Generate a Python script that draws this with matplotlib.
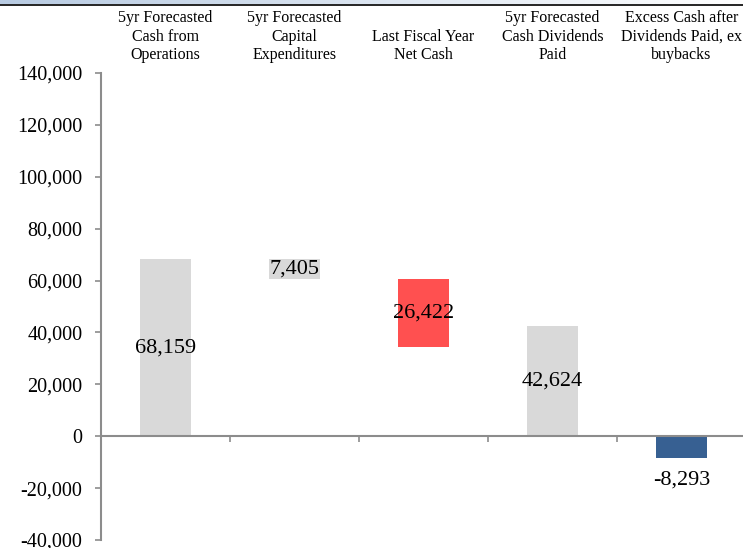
import matplotlib.pyplot as plt
import numpy as np
from matplotlib.transforms import blended_transform_factory

plt.rcParams['font.family'] = ['Liberation Serif', 'DejaVu Serif']

categories = ["5yr Forecasted\nCash from\nOperations",
              "5yr Forecasted\nCapital\nExpenditures",
              "Last Fiscal Year\nNet Cash",
              "5yr Forecasted\nCash Dividends\nPaid",
              "Excess Cash after\nDividends Paid, ex\nbuybacks"]
values = [68159, 7405, 26422, 42624, -8293]
colors = ["#d9d9d9", "#d9d9d9", "#ff5050", "#d9d9d9", "#376092"]
yticks = [-40000, -20000, 0, 20000, 40000, 60000, 80000, 100000, 120000, 140000]


def format_num(n):
    """
    Thousands separator, keeps the sign
    """
    return f"{n:,.0f}"


def bar_bottoms(vals):
    """
    Floating bars: capex hangs from the top of operations cash,
    net cash hangs from the bottom of capex, the rest start at zero
    """
    capex_bottom = vals[0] - vals[1]
    net_bottom = capex_bottom - vals[2]
    return [0, capex_bottom, net_bottom, 0, 0]


def main():
    fig = plt.figure(figsize=(7.43, 5.48), dpi=100)
    ax = fig.add_axes([101 / 743, 8 / 548, 645 / 743, 467 / 548])

    x = np.arange(len(values))
    bottoms = bar_bottoms(values)
    ax.bar(x, values, bottom=bottoms, width=0.4, color=colors, zorder=2)

    # value labels: centred in the bar, or just under a negative one
    for xi, v, b in zip(x, values, bottoms):
        if v < 0:
            ax.annotate(format_num(v), xy=(xi, b + v), xytext=(0, -9),
                        textcoords='offset points', ha='center', va='top',
                        fontsize=16, zorder=3)
        else:
            ax.text(xi, b + v / 2, format_num(v), ha='center', va='center',
                    fontsize=16, zorder=3)

    # category names sit above the plot area
    trans = blended_transform_factory(ax.transData, ax.transAxes)
    for xi, name in zip(x, categories):
        ax.annotate(name, xy=(xi, 1.0), xycoords=trans, xytext=(0, 7),
                    textcoords='offset points', ha='center', va='bottom',
                    fontsize=11.5, linespacing=1.2)

    ax.set_xlim(-0.5, len(values) - 0.5)
    ax.set_ylim(-40000, 140000)
    ax.set_yticks(yticks)
    ax.set_yticklabels([format_num(t) for t in yticks], fontsize=14.5)

    ax.set_xticks(np.arange(0.5, len(values) - 0.5, 1.0))
    ax.set_xticklabels([])

    for side in ['top', 'right']:
        ax.spines[side].set_visible(False)
    ax.spines['bottom'].set_position(('data', 0))
    for side in ['left', 'bottom']:
        ax.spines[side].set_color('#8c8c8c')
        ax.spines[side].set_linewidth(1.5)
    ax.tick_params(axis='y', length=4, width=1.2, color='#8c8c8c', pad=9.5)
    ax.tick_params(axis='x', length=4, width=1.2, color='#8c8c8c')

    # thin header band across the top of the page
    band = fig.add_axes([0, 1 - 4 / 548, 1, 4 / 548])
    band.imshow(np.linspace(0, 1, 256).reshape(1, -1), aspect='auto',
                cmap=plt.matplotlib.colors.LinearSegmentedColormap.from_list(
                    'band', ['#b8cbe2', '#ffffff']))
    band.axis('off')
    fig.add_artist(plt.Line2D([0, 1], [1 - 4.5 / 548] * 2, color='black',
                              linewidth=1.2, transform=fig.transFigure))

    fig.savefig("out.png", dpi=100)


if __name__ == '__main__':
    main()
